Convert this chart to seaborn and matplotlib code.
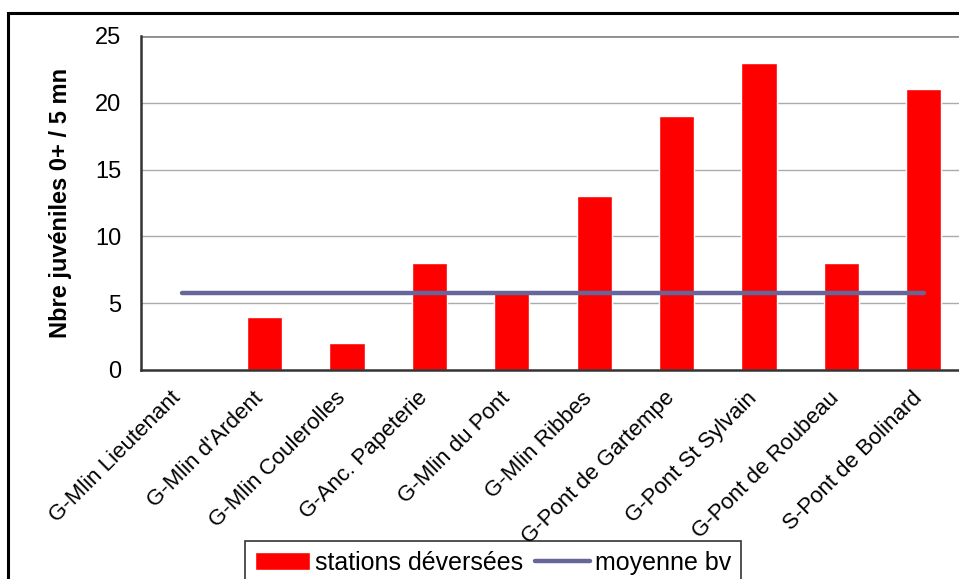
import matplotlib
matplotlib.use("Agg")
import matplotlib.pyplot as plt
from matplotlib.patches import Rectangle
from matplotlib.ticker import FixedLocator
from matplotlib.transforms import ScaledTranslation
import seaborn as sns
import pandas as pd

stations = [
    "G-Mlin Lieutenant",
    "G-Mlin d'Ardent",
    "G-Mlin Coulerolles",
    "G-Anc. Papeterie",
    "G-Mlin du Pont",
    "G-Mlin Ribbes",
    "G-Pont de Gartempe",
    "G-Pont St Sylvain",
    "G-Pont de Roubeau",
    "S-Pont de Bolinard",
]
juveniles = [0, 4, 2, 8, 6, 13, 19, 23, 8, 21]
moyenne_bv = [5.8, 5.8, 5.8, 5.8, 5.8, 5.8, 5.8, 5.8, 5.8, 5.8]
y_ticks = [0, 5, 10, 15, 20, 25]
bar_label = "stations déversées"
line_label = "moyenne bv"

df = pd.DataFrame({"station": stations, "juveniles": juveniles, "moyenne": moyenne_bv})

sns.set_style("white")
plt.rcParams["font.family"] = ["Liberation Sans", "DejaVu Sans"]
plt.rcParams["text.color"] = "black"
plt.rcParams["xtick.color"] = "black"
plt.rcParams["ytick.color"] = "black"
plt.rcParams["axes.labelcolor"] = "black"

W, H = 959, 579
fig = plt.figure(figsize=(W / 100, H / 100), dpi=100)
ax = fig.add_axes([141 / W, 1 - 370 / H, (965 - 141) / W, (370 - 36) / H])

# outer chart frame
fig.patches.append(Rectangle((8 / W, -0.5), 2.0, (1 - 13 / H) + 0.5,
                             transform=fig.transFigure, fill=False,
                             edgecolor="black", linewidth=2.2, zorder=0))

sns.barplot(data=df, x="station", y="juveniles", color="#FF0000",
            saturation=1, width=0.425, ax=ax, zorder=3, label=bar_label)
sns.lineplot(data=df, x="station", y="moyenne", color="#666699",
             linewidth=3.2, sort=False, ax=ax, zorder=4, label=line_label)

ax.set_xlim(-0.5, len(stations) - 0.5)
ax.set_ylim(0, 25)
ax.set_yticks(y_ticks)
ax.set_yticklabels([str(v) for v in y_ticks], fontsize=17)

# horizontal gridlines
for v in y_ticks[1:]:
    ax.axhline(v, color="#8C8C8C" if v == 25 else "#ABABAB",
               linewidth=2.0 if v == 25 else 1.0, zorder=1)

ax.xaxis.set_minor_locator(FixedLocator([i - 0.5 for i in range(len(stations) + 1)]))
ax.tick_params(axis="x", which="major", length=0, pad=18)
ax.tick_params(axis="x", which="minor", direction="inout", length=10, width=1.2, color="#333333")
ax.tick_params(axis="y", direction="inout", length=12, width=1.2, color="#333333", pad=8)
ax.set_xticks(range(len(stations)))
ax.set_xticklabels(stations, rotation=45, ha="right", va="center",
                   rotation_mode="anchor", fontsize=16)
# nudge the slanted category labels slightly to the left
for lbl in ax.get_xticklabels():
    lbl.set_transform(lbl.get_transform() + ScaledTranslation(-5 / 100, 0, fig.dpi_scale_trans))

for side in ["top", "right"]:
    ax.spines[side].set_visible(False)
for side in ["left", "bottom"]:
    ax.spines[side].set_color("#333333")
    ax.spines[side].set_linewidth(1.8)
    ax.spines[side].set_zorder(5)

ax.set_xlabel("")
ax.set_ylabel("Nbre juvéniles 0+ / 5 mn", fontsize=17, fontweight="bold")
ax.yaxis.set_label_coords((72 - 141) / 824, 0.5)

handles, labels = ax.get_legend_handles_labels()
if ax.get_legend() is not None:
    ax.get_legend().remove()
order = [labels.index(bar_label), labels.index(line_label)]
leg = fig.legend([handles[i] for i in order], [labels[i] for i in order],
                 loc="upper center", bbox_to_anchor=(493 / W, 1 - 541 / H),
                 ncol=2, fontsize=18, frameon=True, fancybox=False, shadow=False,
                 edgecolor="black", handlelength=2.2, handleheight=0.72,
                 handletextpad=0.2, columnspacing=0.5, borderpad=0.4, borderaxespad=0)
leg.get_frame().set_linewidth(1.2)

fig.savefig("out.png", dpi=100, facecolor="white")
